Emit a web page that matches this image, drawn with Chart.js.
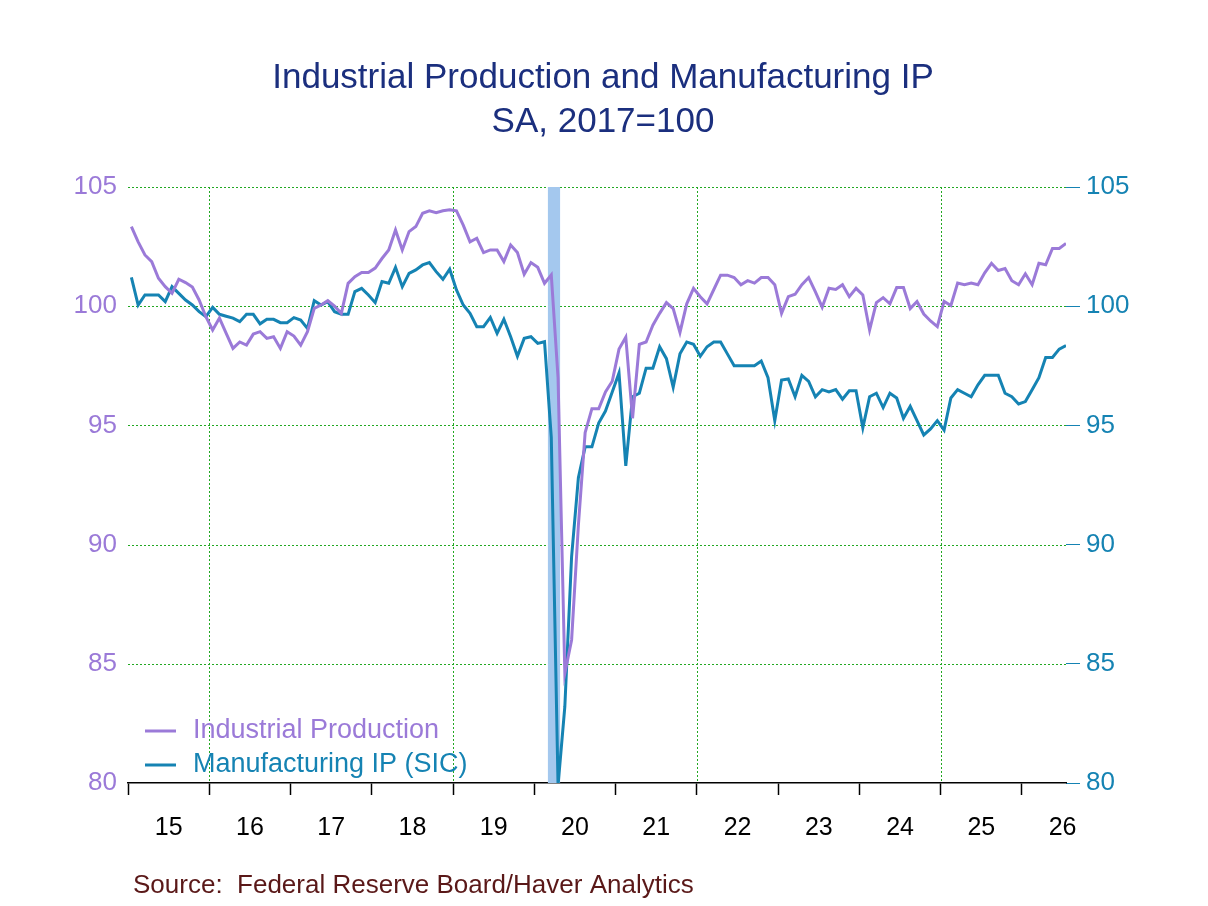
<!DOCTYPE html>
<html><head><meta charset="utf-8">
<script src="https://cdn.jsdelivr.net/npm/chart.js@4.4.1/dist/chart.umd.min.js"></script>
<style>html,body{margin:0;padding:0;background:#fff}#w{width:1208px;height:906px}</style>
</head><body><div id="w"><canvas id="c"></canvas></div>
<script>
const yearLabels = ["15","16","17","18","19","20","21","22","23","24","25","26"];
const titleLines = ["Industrial Production and Manufacturing IP","SA, 2017=100"];
const sourceText = "Source:  Federal Reserve Board/Haver Analytics";
const seriesNames = ["Industrial Production","Manufacturing IP (SIC)"];
// monthly, Jan 2015 ... Jul 2026
const ip = [
103.34,102.7,102.15,101.87,101.17,100.82,100.54,101.13,100.99,100.8,100.26,99.56,
99.0,99.5,98.86,98.23,98.5,98.37,98.83,98.93,98.65,98.72,98.23,98.93,
98.75,98.37,98.93,99.91,100.05,100.23,100.0,99.7,100.96,101.24,101.41,101.41,
101.6,102.0,102.36,103.2,102.36,103.13,103.34,103.9,104.0,103.92,104.0,104.04,
104.0,103.4,102.7,102.85,102.25,102.36,102.36,101.87,102.57,102.25,101.34,101.83,
101.63,100.96,101.31,
97.0,84.6,86.0,90.8,94.7,95.7,95.7,96.4,96.85,98.2,
98.7,95.3,98.4,98.5,99.2,99.7,100.15,99.9,98.9,100.1,100.75,100.4,
100.1,100.7,101.3,101.3,101.2,100.9,101.07,100.97,101.2,101.2,100.9,99.7,
100.4,100.5,100.9,101.2,100.6,99.96,100.75,100.7,100.9,100.4,100.75,100.47,
99.0,100.15,100.36,100.1,100.78,100.78,99.9,100.2,99.67,99.38,99.14,100.2,
100.03,100.97,100.9,100.97,100.9,101.4,101.8,101.5,101.58,101.07,100.9,101.36,
100.9,101.8,101.74,102.42,102.42,102.63,103.0];
const mfg = [
101.21,100.05,100.47,100.47,100.47,100.19,100.82,100.54,100.26,100.05,99.77,99.56,
99.95,99.66,99.58,99.5,99.35,99.66,99.66,99.26,99.45,99.45,99.31,99.31,
99.52,99.42,99.07,100.23,100.05,100.19,99.77,99.66,99.66,100.61,100.75,100.47,
100.15,101.03,100.96,101.63,100.82,101.38,101.52,101.73,101.83,101.45,101.13,101.55,
100.68,100.05,99.7,99.14,99.14,99.53,98.86,99.45,98.72,97.9,98.65,98.72,
98.44,98.51,
94.5,79.9,83.2,89.5,92.8,94.1,94.1,95.1,95.6,96.4,
97.2,93.3,96.2,96.35,97.4,97.4,98.3,97.8,96.6,98.0,98.5,98.4,
97.9,98.3,98.5,98.5,98.0,97.5,97.5,97.5,97.5,97.7,97.0,95.2,
96.9,96.95,96.2,97.1,96.85,96.2,96.5,96.4,96.5,96.1,96.45,96.45,
94.9,96.2,96.35,95.75,96.35,96.15,95.3,95.8,95.2,94.6,94.85,95.2,
94.8,96.15,96.5,96.35,96.2,96.7,97.1,97.1,97.1,96.35,96.2,95.9,
96.0,96.5,97.0,97.85,97.85,98.2,98.35];
const recession = [61.5, 63.3];
const gridYears = [11.5, 47.5, 83.5, 119.5];
const gridValues = [85, 90, 95, 100, 105];

const FONT = "'Liberation Sans', Arial, sans-serif";
const PURPLE = "#9b7ad8", TEAL = "#1583b3", GRID = "#22a822";
const pts = a => a.map((v,i)=>({x:i,y:v}));

const deco = {
  id:'deco',
  beforeDatasetsDraw(ch){
    const {ctx,chartArea:a,scales:{x,y}}=ch;
    ctx.save();
    ctx.strokeStyle=GRID;ctx.lineWidth=1;ctx.setLineDash([2,2]);
    gridValues.forEach(v=>{const py=Math.round(y.getPixelForValue(v))+0.5;ctx.beginPath();ctx.moveTo(a.left,py);ctx.lineTo(a.right,py);ctx.stroke();});
    gridYears.forEach(v=>{const px=Math.round(x.getPixelForValue(v))+0.5;ctx.beginPath();ctx.moveTo(px,a.top);ctx.lineTo(px,a.bottom);ctx.stroke();});
    ctx.setLineDash([]);
    ctx.fillStyle='#a4c8ee';
    const x0=x.getPixelForValue(recession[0]),x1=x.getPixelForValue(recession[1]);
    ctx.fillRect(x0,a.top,x1-x0,a.bottom-a.top);ctx.restore();
  },
  afterDraw(ch){
    const {ctx,chartArea:a}=ch;
    ctx.save();
    ctx.fillStyle='#1b2f7e';ctx.font='35px '+FONT;ctx.textAlign='center';ctx.textBaseline='middle';
    ctx.fillText(titleLines[0],603,78);ctx.fillText(titleLines[1],603,122);
    ctx.fillStyle='#5a1818';ctx.font='26px '+FONT;ctx.textAlign='left';
    ctx.fillText(sourceText,133,886);
    const cols=[PURPLE,TEAL];
    ctx.font='27px '+FONT;
    seriesNames.forEach((n,i)=>{
      const y=731+i*34;
      ctx.strokeStyle=cols[i];ctx.lineWidth=3;ctx.beginPath();ctx.moveTo(145,y);ctx.lineTo(176,y);ctx.stroke();
      ctx.fillStyle=cols[i];ctx.fillText(n,193,y);
    });
    ctx.restore();
  }
};

new Chart(document.getElementById('c'),{
  type:'line',
  data:{datasets:[
    {label:seriesNames[0],data:pts(ip),borderColor:PURPLE,borderWidth:3,pointRadius:0,tension:0,yAxisID:'y'},
    {label:seriesNames[1],data:pts(mfg),borderColor:TEAL,borderWidth:3,pointRadius:0,tension:0,yAxisID:'y'}
  ]},
  options:{
    responsive:true,maintainAspectRatio:false,animation:false,
    layout:{padding:{top:187,left:0,right:0,bottom:0}},
    plugins:{legend:{display:false},tooltip:{enabled:false}},
    scales:{
      x:{type:'linear',min:-0.5,max:138,
        afterBuildTicks(s){s.ticks=[];for(let k=0;k<=11;k++)s.ticks.push({value:-0.5+12*k});},
        afterFit(s){s.height=12;},
        ticks:{display:false},
        border:{display:true,color:'#000',width:1.5},
        grid:{drawOnChartArea:false,tickLength:12,tickColor:'#000',tickWidth:1.5}
      },
      x2:{type:'linear',position:'bottom',min:-0.5,max:138,
        afterBuildTicks(s){s.ticks=yearLabels.map((l,k)=>({value:5.5+12*k}));},
        afterFit(s){s.height=111;},
        ticks:{autoSkip:false,maxRotation:0,padding:10,color:'#000',font:{family:FONT,size:25},
          callback:(v,i)=>yearLabels[i]},
        grid:{display:false},border:{display:false}
      },
      y:{position:'left',min:80,max:105,
        afterFit(s){s.width=128;},
        ticks:{stepSize:5,color:PURPLE,font:{family:FONT,size:26},padding:3},
        border:{display:false},
        grid:{display:false}
      },
      y1:{position:'right',min:80,max:105,
        afterFit(s){s.width=142;},
        ticks:{stepSize:5,color:TEAL,font:{family:FONT,size:26},padding:6},
        border:{display:false},
        grid:{drawOnChartArea:false,drawTicks:true,tickLength:14,tickColor:TEAL}
      }
    }
  },
  plugins:[deco]
});
</script></body></html>
